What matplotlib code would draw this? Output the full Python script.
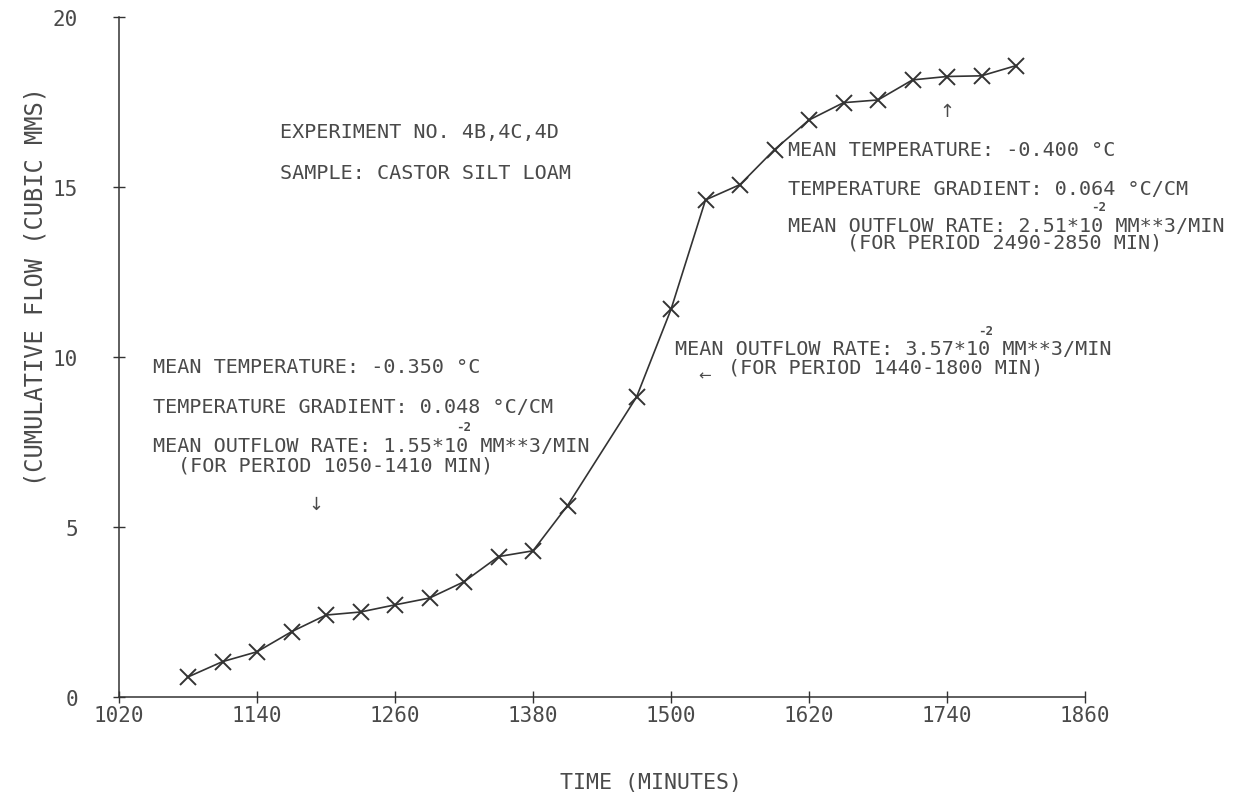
import matplotlib
matplotlib.use("Agg")
import matplotlib.pyplot as plt

# cumulative flow readings, time in minutes
time_min = [1080, 1110, 1140, 1170, 1200, 1230, 1260, 1290, 1320, 1350, 1380, 1410,
            1470, 1500, 1530, 1560, 1590, 1620, 1650, 1680, 1710, 1740, 1770, 1800]
cum_flow = [0.59, 1.04, 1.33, 1.92, 2.41, 2.50, 2.71, 2.91, 3.39, 4.13, 4.30, 5.63,
            8.82, 11.40, 14.62, 15.07, 16.10, 16.97, 17.48, 17.56, 18.15, 18.25, 18.27, 18.57]

x_ticks = [1020, 1140, 1260, 1380, 1500, 1620, 1740, 1860]
y_ticks = [0, 5, 10, 15, 20]

ink = "#333333"
txt = "#4a4a4a"
mono = "DejaVu Sans Mono"
fs = 14.5
cw = 0.602 * fs  # char width in points for the mono font

fig = plt.figure(figsize=(12.43, 8.03), dpi=100)
ax = fig.add_axes([119 / 1243, 1 - 698 / 803, 966 / 1243, 680 / 803])

ax.plot(time_min, cum_flow, color=ink, lw=1.2, marker="x", ms=11, mew=1.4)

ax.set_xlim(1020, 1860)
ax.set_ylim(0, 20)
ax.set_xticks(x_ticks)
ax.set_yticks(y_ticks)
ax.set_xticklabels([str(t) for t in x_ticks], family=mono, fontsize=15, color=txt)
ax.set_yticklabels([str(t) for t in y_ticks], family=mono, fontsize=15, color=txt)
ax.tick_params(axis="x", direction="inout", length=9, width=1, color=ink, pad=1)
ax.tick_params(axis="y", direction="inout", length=9, width=1, color=ink, pad=25)
for s in ["top", "right"]:
    ax.spines[s].set_visible(False)
for s in ["left", "bottom"]:
    ax.spines[s].set_color(ink)
    ax.spines[s].set_linewidth(1.1)

fig.text(651 / 1243, 1 - 783 / 803, "TIME (MINUTES)", family=mono, fontsize=15.5,
         color=txt, ha="center", va="center")
fig.text(36 / 1243, 1 - 287 / 803, "(CUMULATIVE FLOW (CUBIC MMS)", family=mono,
         fontsize=17, color=txt, ha="center", va="center", rotation=90)


def note(x, y, s):
    ax.text(x, y, s, family=mono, fontsize=fs, color=txt, ha="left", va="center")


def sup(x, y, s, nchar):
    # small raised exponent placed above a given character of a line
    ax.annotate(s, (x, y), xytext=(nchar * cw, 8.5), textcoords="offset points",
                family=mono, fontsize=9, color=txt, ha="center", va="bottom",
                fontweight="bold")


note(1160, 16.62, "EXPERIMENT NO. 4B,4C,4D")
note(1160, 15.44, "SAMPLE: CASTOR SILT LOAM")

# left block
note(1049.6, 9.71, "MEAN TEMPERATURE: -0.350 °C")
note(1049.6, 8.53, "TEMPERATURE GRADIENT: 0.048 °C/CM")
note(1049.6, 7.41, "MEAN OUTFLOW RATE: 1.55*10 MM**3/MIN")
sup(1049.6, 7.41, "-2", 25.6)
note(1071.3, 6.82, "(FOR PERIOD 1050-1410 MIN)")
ax.text(1191.3, 5.68, "↓", fontsize=13, color=txt, ha="center", va="center")

# middle block
note(1503.5, 10.24, "MEAN OUTFLOW RATE: 3.57*10 MM**3/MIN")
sup(1503.5, 10.24, "-2", 25.6)
note(1549.6, 9.71, "(FOR PERIOD 1440-1800 MIN)")
ax.text(1529.6, 9.47, "←", fontsize=11, color=txt, ha="center", va="center")

# right block
note(1601.7, 16.09, "MEAN TEMPERATURE: -0.400 °C")
note(1601.7, 14.97, "TEMPERATURE GRADIENT: 0.064 °C/CM")
note(1601.7, 13.88, "MEAN OUTFLOW RATE: 2.51*10 MM**3/MIN")
sup(1601.7, 13.88, "-2", 25.6)
note(1653, 13.38, "(FOR PERIOD 2490-2850 MIN)")
ax.text(1740, 17.24, "↑", fontsize=13, color=txt, ha="center", va="center")

fig.savefig("out.png", dpi=100, facecolor="white")
